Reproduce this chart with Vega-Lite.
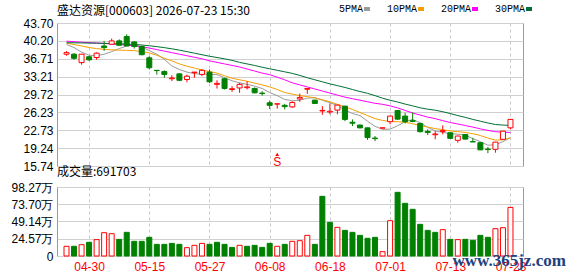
{
  "$schema": "https://vega.github.io/schema/vega-lite/v6.json",
  "background": "white",
  "padding": {"left": 10, "top": 4, "right": 0, "bottom": 0},
  "title": {"text": "盛达资源[000603] 2026-07-23 15:30", "anchor": "start", "frame": "group", "font": "Noto Sans CJK SC", "fontSize": 12, "fontWeight": "normal", "color": "#000000", "offset": -14},
  "spacing": 21,
  "bounds": "flush",
  "config": {
    "view": {"stroke": "#999999"},
    "axis": {"labelFont": "Arial", "labelFontSize": 12, "labelColor": "#000000", "ticks": false, "domain": false, "title": null, "gridColor": "#d0d0d0", "labelPadding": 4, "labelOverlap": false, "labelBound": false, "labelFlush": false, "tickCount": 30}
  },
  "datasets": {
    "k": [
      {"i":1,"d":"04-27","o":37.6,"h":38.2,"l":37.3,"c":37.9,"v":13.8,"u":1,"5PMA":39.5,"10PMA":39.75,"20PMA":40.15,"30PMA":39.85},
      {"i":2,"d":"04-28","o":37.6,"h":37.8,"l":36.5,"c":36.8,"v":13.8,"u":0,"5PMA":38.9,"10PMA":39.5,"20PMA":40.05,"30PMA":39.83},
      {"i":3,"d":"04-29","o":35.95,"h":37.65,"l":35.55,"c":37.6,"v":16.1,"u":1,"5PMA":38.0,"10PMA":39.2,"20PMA":39.95,"30PMA":39.8},
      {"i":4,"d":"04-30","o":37.1,"h":37.25,"l":36.3,"c":36.5,"v":19.5,"u":0,"5PMA":37.4,"10PMA":38.9,"20PMA":39.85,"30PMA":39.78},
      {"i":5,"d":"05-06","o":36.95,"h":37.95,"l":36.5,"c":37.8,"v":23.3,"u":1,"5PMA":37.3,"10PMA":38.7,"20PMA":39.78,"30PMA":39.75},
      {"i":6,"d":"05-07","o":39.2,"h":40.2,"l":38.25,"c":38.9,"v":33.2,"u":1,"5PMA":37.6,"10PMA":38.55,"20PMA":39.7,"30PMA":39.72},
      {"i":7,"d":"05-08","o":39.55,"h":40.65,"l":39.5,"c":40.2,"v":31.8,"u":1,"5PMA":38.1,"10PMA":38.45,"20PMA":39.6,"30PMA":39.68},
      {"i":8,"d":"05-11","o":40.2,"h":40.5,"l":39.3,"c":39.35,"v":23.7,"u":0,"5PMA":38.7,"10PMA":38.4,"20PMA":39.5,"30PMA":39.63},
      {"i":9,"d":"05-12","o":41.05,"h":41.5,"l":39.2,"c":39.2,"v":33.7,"u":0,"5PMA":39.2,"10PMA":38.35,"20PMA":39.4,"30PMA":39.57},
      {"i":10,"d":"05-13","o":40.0,"h":40.1,"l":38.7,"c":39.1,"v":20.9,"u":0,"5PMA":39.5,"10PMA":38.3,"20PMA":39.25,"30PMA":39.5},
      {"i":11,"d":"05-14","o":39.1,"h":39.3,"l":37.4,"c":37.5,"v":20.9,"u":0,"5PMA":39.0,"10PMA":38.1,"20PMA":39.05,"30PMA":39.4},
      {"i":12,"d":"05-15","o":36.9,"h":37.2,"l":34.6,"c":34.95,"v":26.6,"u":0,"5PMA":38.3,"10PMA":37.85,"20PMA":38.8,"30PMA":39.25},
      {"i":13,"d":"05-18","o":34.45,"h":34.5,"l":33.6,"c":34.4,"v":16.6,"u":0,"5PMA":37.6,"10PMA":37.4,"20PMA":38.5,"30PMA":39.08},
      {"i":14,"d":"05-19","o":34.2,"h":34.45,"l":33.0,"c":33.65,"v":16.6,"u":0,"5PMA":36.6,"10PMA":36.8,"20PMA":38.2,"30PMA":38.88},
      {"i":15,"d":"05-20","o":32.8,"h":33.5,"l":32.35,"c":32.95,"v":18.0,"u":0,"5PMA":35.3,"10PMA":36.3,"20PMA":37.9,"30PMA":38.65},
      {"i":16,"d":"05-21","o":33.75,"h":33.9,"l":32.35,"c":32.5,"v":16.6,"u":0,"5PMA":34.6,"10PMA":35.7,"20PMA":37.6,"30PMA":38.4},
      {"i":17,"d":"05-22","o":32.65,"h":33.6,"l":32.1,"c":33.3,"v":11.9,"u":1,"5PMA":34.1,"10PMA":35.25,"20PMA":37.3,"30PMA":38.1},
      {"i":18,"d":"05-25","o":34.0,"h":34.1,"l":33.0,"c":34.1,"v":15.2,"u":1,"5PMA":33.8,"10PMA":34.9,"20PMA":37.0,"30PMA":37.8},
      {"i":19,"d":"05-26","o":33.65,"h":34.7,"l":33.3,"c":34.45,"v":18.0,"u":1,"5PMA":33.7,"10PMA":34.5,"20PMA":36.7,"30PMA":37.5},
      {"i":20,"d":"05-27","o":34.1,"h":34.6,"l":32.0,"c":32.2,"v":16.6,"u":0,"5PMA":33.65,"10PMA":34.2,"20PMA":36.3,"30PMA":37.2},
      {"i":21,"d":"05-28","o":31.7,"h":32.5,"l":30.9,"c":31.9,"v":19.5,"u":0,"5PMA":33.6,"10PMA":33.9,"20PMA":36.0,"30PMA":36.95},
      {"i":22,"d":"05-29","o":32.8,"h":33.0,"l":30.7,"c":30.9,"v":16.6,"u":0,"5PMA":33.0,"10PMA":33.4,"20PMA":35.7,"30PMA":36.7},
      {"i":23,"d":"06-01","o":30.7,"h":31.35,"l":30.24,"c":30.85,"v":12.3,"u":0,"5PMA":32.4,"10PMA":32.9,"20PMA":35.4,"30PMA":36.4},
      {"i":24,"d":"06-02","o":31.0,"h":32.0,"l":30.05,"c":31.7,"v":15.2,"u":1,"5PMA":32.0,"10PMA":32.6,"20PMA":35.1,"30PMA":36.0},
      {"i":25,"d":"06-03","o":31.05,"h":32.3,"l":30.7,"c":31.2,"v":13.8,"u":0,"5PMA":31.7,"10PMA":32.3,"20PMA":34.7,"30PMA":35.7},
      {"i":26,"d":"06-04","o":30.9,"h":31.1,"l":29.95,"c":30.05,"v":15.2,"u":0,"5PMA":31.35,"10PMA":31.95,"20PMA":34.3,"30PMA":35.4},
      {"i":27,"d":"06-05","o":30.0,"h":30.37,"l":29.5,"c":29.9,"v":12.3,"u":0,"5PMA":30.9,"10PMA":31.6,"20PMA":33.9,"30PMA":35.05},
      {"i":28,"d":"06-08","o":28.1,"h":28.55,"l":26.9,"c":27.6,"v":18.0,"u":0,"5PMA":30.1,"10PMA":31.2,"20PMA":33.6,"30PMA":34.75},
      {"i":29,"d":"06-09","o":27.85,"h":27.92,"l":26.95,"c":27.9,"v":13.8,"u":1,"5PMA":29.5,"10PMA":30.7,"20PMA":33.1,"30PMA":34.45},
      {"i":30,"d":"06-10","o":27.6,"h":27.9,"l":26.8,"c":27.35,"v":16.6,"u":0,"5PMA":28.75,"10PMA":30.1,"20PMA":32.6,"30PMA":34.15},
      {"i":31,"d":"06-11","o":27.3,"h":28.4,"l":27.12,"c":28.15,"v":20.9,"u":1,"5PMA":28.5,"10PMA":29.8,"20PMA":32.0,"30PMA":33.85},
      {"i":32,"d":"06-12","o":28.85,"h":29.9,"l":28.3,"c":29.15,"v":21.8,"u":1,"5PMA":28.6,"10PMA":29.5,"20PMA":31.6,"30PMA":33.45},
      {"i":33,"d":"06-15","o":30.75,"h":30.95,"l":29.85,"c":30.9,"v":29.4,"u":1,"5PMA":29.0,"10PMA":29.3,"20PMA":31.2,"30PMA":33.0},
      {"i":34,"d":"06-16","o":28.62,"h":28.7,"l":27.9,"c":27.97,"v":16.6,"u":0,"5PMA":29.1,"10PMA":29.05,"20PMA":30.8,"30PMA":32.6},
      {"i":35,"d":"06-17","o":26.5,"h":27.45,"l":25.75,"c":26.6,"v":85.0,"u":0,"5PMA":28.6,"10PMA":28.7,"20PMA":30.4,"30PMA":32.2},
      {"i":36,"d":"06-18","o":26.3,"h":27.95,"l":25.85,"c":26.45,"v":47.9,"u":0,"5PMA":28.1,"10PMA":28.3,"20PMA":30.0,"30PMA":31.8},
      {"i":37,"d":"06-22","o":26.67,"h":27.7,"l":25.85,"c":27.64,"v":40.8,"u":1,"5PMA":27.6,"10PMA":27.8,"20PMA":29.6,"30PMA":31.45},
      {"i":38,"d":"06-23","o":27.45,"h":27.5,"l":24.5,"c":24.85,"v":36.5,"u":0,"5PMA":26.7,"10PMA":27.3,"20PMA":29.2,"30PMA":31.1},
      {"i":39,"d":"06-24","o":24.3,"h":24.85,"l":23.55,"c":24.1,"v":33.7,"u":0,"5PMA":26.0,"10PMA":26.8,"20PMA":28.9,"30PMA":30.7},
      {"i":40,"d":"06-25","o":23.74,"h":23.85,"l":23.1,"c":23.2,"v":29.4,"u":0,"5PMA":25.6,"10PMA":26.2,"20PMA":28.6,"30PMA":30.3},
      {"i":41,"d":"06-26","o":23.2,"h":23.25,"l":20.85,"c":21.3,"v":25.2,"u":0,"5PMA":24.5,"10PMA":25.6,"20PMA":28.3,"30PMA":29.95},
      {"i":42,"d":"06-29","o":21.2,"h":21.6,"l":20.6,"c":21.1,"v":26.6,"u":0,"5PMA":23.5,"10PMA":25.0,"20PMA":28.0,"30PMA":29.5},
      {"i":43,"d":"06-30","o":23.15,"h":23.2,"l":23.15,"c":23.2,"v":6.2,"u":1,"5PMA":22.9,"10PMA":24.65,"20PMA":27.8,"30PMA":29.0},
      {"i":44,"d":"07-01","o":24.4,"h":25.5,"l":23.9,"c":25.5,"v":50.3,"u":1,"5PMA":22.95,"10PMA":24.45,"20PMA":27.5,"30PMA":28.6},
      {"i":45,"d":"07-02","o":26.6,"h":26.7,"l":24.8,"c":24.9,"v":90.7,"u":0,"5PMA":23.6,"10PMA":24.4,"20PMA":27.1,"30PMA":28.25},
      {"i":46,"d":"07-03","o":25.5,"h":26.15,"l":24.07,"c":24.4,"v":75.0,"u":0,"5PMA":24.4,"10PMA":24.3,"20PMA":26.6,"30PMA":27.85},
      {"i":47,"d":"07-06","o":24.6,"h":26.2,"l":24.3,"c":24.45,"v":66.5,"u":0,"5PMA":24.85,"10PMA":24.0,"20PMA":26.1,"30PMA":27.5},
      {"i":48,"d":"07-07","o":24.07,"h":24.1,"l":22.3,"c":22.45,"v":45.1,"u":0,"5PMA":24.2,"10PMA":23.65,"20PMA":25.7,"30PMA":27.12},
      {"i":49,"d":"07-08","o":22.5,"h":22.9,"l":21.8,"c":22.3,"v":36.5,"u":0,"5PMA":23.3,"10PMA":23.35,"20PMA":25.3,"30PMA":26.85},
      {"i":50,"d":"07-09","o":21.85,"h":22.57,"l":20.95,"c":22.0,"v":33.7,"u":0,"5PMA":22.6,"10PMA":23.05,"20PMA":25.0,"30PMA":26.65},
      {"i":51,"d":"07-10","o":22.5,"h":23.68,"l":21.93,"c":22.65,"v":37.5,"u":1,"5PMA":22.3,"10PMA":22.85,"20PMA":24.6,"30PMA":26.35},
      {"i":52,"d":"07-13","o":22.24,"h":22.3,"l":21.1,"c":21.15,"v":23.7,"u":0,"5PMA":22.1,"10PMA":22.6,"20PMA":24.25,"30PMA":26.0},
      {"i":53,"d":"07-14","o":20.76,"h":21.65,"l":20.3,"c":21.6,"v":23.3,"u":1,"5PMA":21.95,"10PMA":22.45,"20PMA":23.95,"30PMA":25.6},
      {"i":54,"d":"07-15","o":21.9,"h":22.0,"l":20.95,"c":21.0,"v":23.7,"u":0,"5PMA":21.8,"10PMA":22.3,"20PMA":23.65,"30PMA":25.25},
      {"i":55,"d":"07-16","o":20.5,"h":21.25,"l":20.45,"c":20.45,"v":22.3,"u":0,"5PMA":21.1,"10PMA":22.05,"20PMA":23.35,"30PMA":24.85},
      {"i":56,"d":"07-17","o":20.3,"h":20.3,"l":18.85,"c":18.9,"v":29.4,"u":0,"5PMA":20.5,"10PMA":21.7,"20PMA":23.0,"30PMA":24.5},
      {"i":57,"d":"07-20","o":19.05,"h":19.45,"l":18.25,"c":18.95,"v":26.6,"u":0,"5PMA":19.8,"10PMA":21.2,"20PMA":22.7,"30PMA":24.15},
      {"i":58,"d":"07-21","o":19.0,"h":20.45,"l":18.35,"c":20.4,"v":38.9,"u":1,"5PMA":19.9,"10PMA":20.8,"20PMA":22.45,"30PMA":23.85},
      {"i":59,"d":"07-22","o":20.95,"h":22.6,"l":20.9,"c":22.55,"v":40.3,"u":1,"5PMA":20.5,"10PMA":20.85,"20PMA":22.35,"30PMA":23.75},
      {"i":60,"d":"07-23","o":23.2,"h":24.9,"l":22.9,"c":24.85,"v":69.17,"u":1,"5PMA":21.3,"10PMA":21.25,"20PMA":22.3,"30PMA":23.65}
    ]
  },
  "vconcat": [
    {
      "width": 466,
      "height": 143,
      "data": {"name": "k"},
      "layer": [
        {
          "transform": [{"fold": ["5PMA", "10PMA", "20PMA", "30PMA"], "as": ["ma", "val"]}],
          "mark": {"type": "line", "strokeWidth": 1},
          "encoding": {
            "x": {"field": "i", "type": "quantitative", "scale": {"domain": [0.4, 61], "nice": false, "zero": false}, "axis": {"values": [4, 12, 20, 28, 36, 44, 52, 60], "tickCount": 30, "labels": false, "grid": true, "gridDash": [3, 3], "gridColor": "#c8c8c8"}},
            "y": {"field": "val", "type": "quantitative", "scale": {"domain": [15.74, 43.7], "zero": false, "nice": false}, "axis": {"values": [15.74, 19.24, 22.73, 26.23, 29.72, 33.21, 36.71, 40.2, 43.7], "tickCount": 30, "format": ".2f", "grid": true, "labelOverlap": false, "labelFontSize": 12, "labelFont": "Arial", "labelAlign": "right", "labelBaseline": "middle", "labelPadding": 4}},
            "color": {
              "field": "ma", "type": "nominal",
              "scale": {"domain": ["5PMA", "10PMA", "20PMA", "30PMA"], "range": ["#9a9a9a", "#f5a000", "#ff00ff", "#006f35"]},
              "legend": {"orient": "none", "legendX": 305, "legendY": -19, "direction": "horizontal", "title": null, "symbolType": "stroke", "symbolSize": 36, "symbolStrokeWidth": 4, "labelFont": "Liberation Mono", "labelFontSize": 10, "labelColor": "#000000", "labelAlign": "right", "labelOffset": -9, "columnPadding": 8}
            }
          }
        },
        {
          "mark": {"type": "rule", "strokeWidth": 1},
          "encoding": {
            "x": {"field": "i", "type": "quantitative"},
            "y": {"field": "l", "type": "quantitative"},
            "y2": {"field": "h"},
            "color": {"condition": {"test": "datum.c >= datum.o", "value": "#ff0000"}, "value": "#008000"}
          }
        },
        {
          "mark": {"type": "bar", "orient": "vertical", "width": 5, "strokeWidth": 1},
          "encoding": {
            "x": {"field": "i", "type": "quantitative"},
            "y": {"field": "o", "type": "quantitative"},
            "y2": {"field": "c"},
            "fill": {"condition": {"test": "datum.c > datum.o", "value": "#ffffff"}, "value": "#008000"},
            "stroke": {"condition": {"test": "datum.c >= datum.o", "value": "#ff0000"}, "value": "#008000"}
          }
        },
        {
          "data": {"values": [{"i": 29, "t": "S"}]},
          "mark": {"type": "text", "font": "Arial", "fontSize": 12, "color": "#ff0000", "baseline": "middle"},
          "encoding": {
            "x": {"field": "i", "type": "quantitative"},
            "y": {"datum": 16.6},
            "text": {"field": "t"}
          }
        },
        {
          "data": {"values": [{"i": 29}]},
          "mark": {"type": "point", "shape": "triangle-up", "filled": true, "size": 14, "color": "#ff0000", "opacity": 1},
          "encoding": {
            "x": {"field": "i", "type": "quantitative"},
            "y": {"datum": 18.0}
          }
        }
      ]
    },
    {
      "width": 466,
      "height": 69,
      "title": {"text": "成交量:691703", "anchor": "start", "frame": "group", "font": "Noto Sans CJK SC", "fontSize": 12, "fontWeight": "normal", "color": "#000000", "offset": 2},
      "data": {"name": "k"},
      "layer": [
        {
          "mark": {"type": "bar", "orient": "vertical", "width": 5, "strokeWidth": 1},
          "encoding": {
            "x": {"field": "i", "type": "quantitative", "scale": {"domain": [0.4, 61], "nice": false, "zero": false}, "axis": {"values": [4, 12, 20, 28, 36, 44, 52, 60], "tickCount": 30, "labelExpr": "['04-30','05-15','05-27','06-08','06-18','07-01','07-13','07-23'][(datum.value - 4) / 8]", "labelColor": "#ff0000", "labelPadding": 5, "grid": true, "gridDash": [3, 3], "gridColor": "#c8c8c8"}},
            "y": {"field": "v", "type": "quantitative", "scale": {"domain": [0, 98.27], "nice": false}, "axis": {"values": [0, 24.57, 49.14, 73.7, 98.27], "tickCount": 30, "labelExpr": "datum.value == 0 ? '0' : format(datum.value, '.2f') + '万'", "grid": true, "labelOverlap": false, "labelFontSize": 12, "labelFont": "Arial", "labelAlign": "right", "labelBaseline": "middle", "labelPadding": 4}},
            "y2": {"datum": 0},
            "fill": {"condition": {"test": "datum.u == 1", "value": "#ffffff"}, "value": "#008000"},
            "stroke": {"condition": {"test": "datum.u == 1", "value": "#ff0000"}, "value": "#008000"}
          }
        },
        {
          "data": {"values": [{"t": "www.365jz.com"}]},
          "mark": {"type": "text", "align": "left", "baseline": "middle", "font": "Liberation Serif", "fontSize": 17, "fontWeight": "bold", "color": "#21417f"},
          "encoding": {
            "x": {"datum": 52.3},
            "y": {"datum": -7},
            "text": {"field": "t"}
          }
        }
      ]
    }
  ]
}
